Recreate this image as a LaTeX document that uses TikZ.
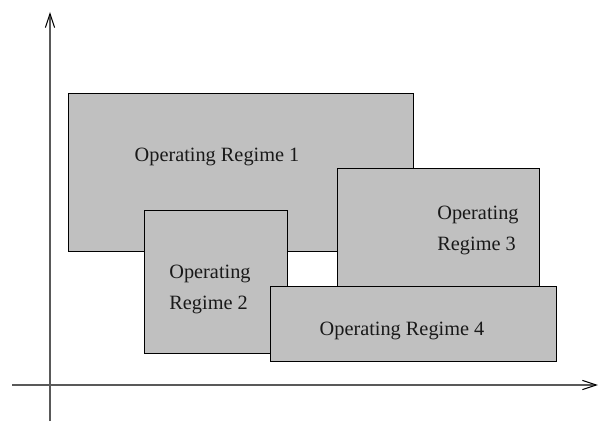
\documentclass[tikz,border=0pt]{standalone}
\usepackage{fontspec}
\setmainfont{Liberation Serif}
\usetikzlibrary{arrows.meta}
\definecolor{regimegray}{RGB}{192,192,192}

\begin{document}
\begin{tikzpicture}[x=0.5pt,y=-0.5pt,font=\fontsize{10.15}{15.5}\selectfont,
  regime/.style={draw=black,fill=regimegray,line width=0.5pt},
  axis/.style={gray!70!black,line width=0.75pt,-{Straight Barb[black,length=7pt,width=4.6pt,line width=0.5pt]}},
  lbl/.style={align=left,inner sep=0pt,text=black!90}]
  \useasboundingbox (0,0) rectangle (601,423);
  % axes
  \coordinate (ybot) at (50,421);
  \coordinate (ytop) at (50,12);
  \coordinate (xleft) at (12,385);
  \coordinate (xright) at (598,385);
  \draw[axis] (ybot) -- (ytop);
  \draw[axis] (xleft) -- (xright);
  % regimes
  \draw[regime] (68,93) rectangle (413,251);
  \draw[regime] (144,210) rectangle (287,353);
  \draw[regime] (337,168) rectangle (539,286);
  \draw[regime] (270,286) rectangle (556,361);
  \node[lbl] (reg1) at (217,157) {Operating Regime 1};
  \node[lbl] (reg2) at (210,289) {Operating\\Regime 2};
  \node[lbl] (reg3) at (478,230) {Operating\\Regime 3};
  \node[lbl] (reg4) at (402,331) {Operating Regime 4};
\end{tikzpicture}
\end{document}
